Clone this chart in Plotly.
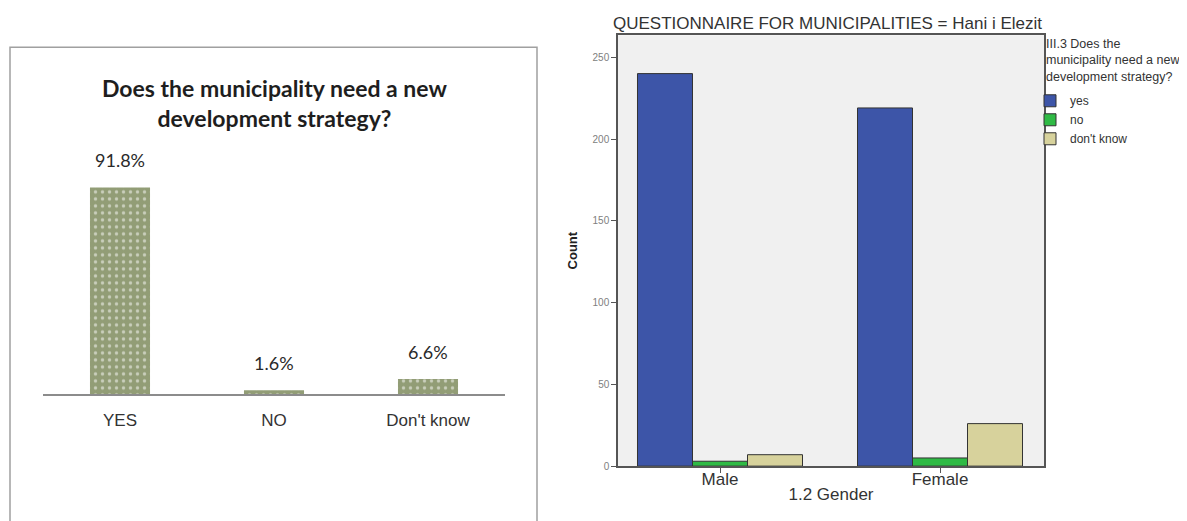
import plotly.graph_objects as go

# ---- Left chart data ----
answers = ["YES", "NO", "Don't know"]
answer_pct = [91.8, 1.6, 6.6]
answer_labels = ["91.8%", "1.6%", "6.6%"]

# ---- Right chart data ----
genders = ["Male", "Female"]
yes_counts = [240, 219]
no_counts = [3, 5]
dontknow_counts = [7, 26]
series_names = ["yes", "no", "don't know"]
series_colors = ["#3d55a8", "#2fba45", "#d7d29c"]

# page body adds an 8px offset; work in screenshot pixel coordinates
OFF = 8
K = 0.988  # observed vertical scale of the capture
W, H = 1187 - OFF, 521 - OFF
def px_x(p):
    return (p - OFF) / W
def px_y(p):
    return (H - (p / K - OFF)) / H

fig = go.Figure()

# Left bars
fig.add_trace(go.Bar(
    x=answers, y=answer_pct, xaxis="x", yaxis="y", width=0.39,
    marker=dict(color="#929d76", line=dict(width=0),
                pattern=dict(shape=".", fgcolor="#ffffff", size=7, solidity=0.18)),
    showlegend=False, hoverinfo="skip"))

for xv, yv, lab in zip(answers, answer_pct, answer_labels):
    fig.add_annotation(x=xv, y=yv, xref="x", yref="y", text=lab, showarrow=False,
                       yshift=27, font=dict(family="Lato", size=18, color="#2a2a2a"))

# Right bars
for name, vals, col in zip(series_names, [yes_counts, no_counts, dontknow_counts], series_colors):
    fig.add_trace(go.Bar(
        x=genders, y=vals, name=name, xaxis="x2", yaxis="y2",
        marker=dict(color=col, line=dict(color="#333333", width=1)),
        hoverinfo="skip"))

fig.update_layout(
    width=W, height=H, margin=dict(l=0, r=0, t=0, b=0),
    paper_bgcolor="white", plot_bgcolor="white",
    barmode="group", bargap=0.25, bargroupgap=0,
    font=dict(family="Arial", color="#333333"),
    xaxis=dict(domain=[px_x(43), px_x(505)], anchor="y", range=[-0.5, 2.5],
               showline=True, linecolor="#8c8c8c", linewidth=1.5, ticks="",
               showgrid=False, zeroline=False, ticklabelstandoff=10,
               tickfont=dict(family="Arial", size=17, color="#333333")),
    yaxis=dict(domain=[px_y(393), px_y(160)], anchor="x", range=[0, 103.8],
               visible=False, showgrid=False),
    xaxis2=dict(domain=[px_x(618), px_x(1044)], anchor="y2", range=[-0.4636, 1.4727],
                showline=True, mirror=True, linecolor="#555555", linewidth=1.5,
                ticks="outside", ticklen=5, tickcolor="#555555", showgrid=False,
                ticklabelstandoff=-8,
                tickfont=dict(family="Arial", size=17, color="#333333"),
                title=dict(text="1.2 Gender", standoff=0,
                           font=dict(family="Arial", size=17, color="#333333"))),
    yaxis2=dict(domain=[px_y(465), px_y(35)], anchor="x2", range=[0, 263.5],
                showline=True, mirror=True, linecolor="#555555", linewidth=1.5,
                ticks="outside", ticklen=5, tickcolor="#555555", showgrid=False,
                zeroline=False, tickvals=[0, 50, 100, 150, 200, 250],
                tickfont=dict(family="Arial", size=10, color="#808080"),
                title=dict(text="<b>Count</b>", standoff=12,
                           font=dict(family="Arial", size=13, color="#222222"))),
    legend=dict(x=px_x(1030), y=px_y(86), xanchor="left", yanchor="top",
                bgcolor="rgba(0,0,0,0)", borderwidth=0,
                font=dict(family="Arial", size=12, color="#333333"),
                itemwidth=30, tracegroupgap=0),
)

# legend heading
fig.add_annotation(x=px_x(1044), y=px_y(35), xref="paper", yref="paper", showarrow=False,
                   xanchor="left", yanchor="top", align="left",
                   text="III.3 Does the<br>municipality need a new<br>development strategy?",
                   font=dict(family="Arial", size=12.5, color="#333333"))

# gray plot background for right chart
fig.add_shape(type="rect", xref="x2 domain", yref="y2 domain", x0=0, x1=1, y0=0, y1=1,
              fillcolor="#f0f0f0", line=dict(width=0), layer="below")

# left frame
fig.add_shape(type="rect", xref="paper", yref="paper", x0=px_x(10), x1=px_x(537),
              y0=-0.05, y1=px_y(47), line=dict(color="#a0a0a0", width=1.5), layer="below")

# left title
fig.add_annotation(x=px_x(274), y=px_y(103), xref="paper", yref="paper", showarrow=False,
                   xanchor="center", yanchor="middle",
                   text="<b>Does the municipality need a new<br>development strategy?</b>",
                   font=dict(family="Lato", size=23, color="#1e1e1e"))

# right title
fig.add_annotation(x=px_x(827), y=px_y(23), xref="paper", yref="paper", showarrow=False,
                   xanchor="center", yanchor="middle",
                   text="QUESTIONNAIRE FOR MUNICIPALITIES = Hani i Elezit",
                   font=dict(family="Arial", size=17, color="#333333"))

fig.write_html("out.html", config={"displayModeBar": False})
